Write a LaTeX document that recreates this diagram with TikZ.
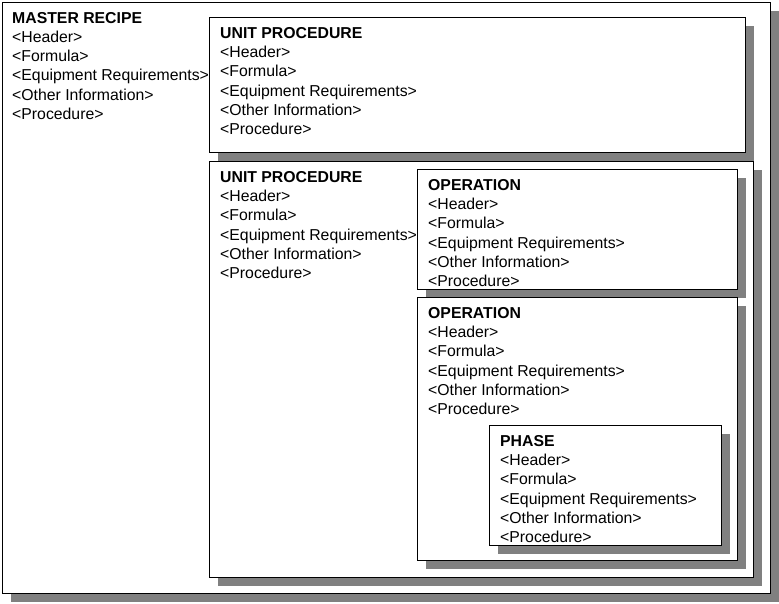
\documentclass[tikz,border=0pt]{standalone}
\usepackage{fontspec}
\setmainfont{Liberation Sans}
\usetikzlibrary{shadows}
\begin{document}
\begin{tikzpicture}[x=1pt,y=-1pt,
  box/.style={draw=black, line width=1.2pt, fill=white, anchor=north west, inner sep=0pt,
    drop shadow={shadow xshift=8pt, shadow yshift=-8pt, fill={rgb,255:red,128;green,128;blue,128}, opacity=1}},
  lbl/.style={anchor=base west, inner sep=0pt, align=left, font=\fontsize{15.8}{19.25}\selectfont}]
\useasboundingbox[fill=white] (0,0) rectangle (779,603);
\node[box, minimum width=768pt, minimum height=591pt] (master) at (2,2) {};
\node[box, minimum width=536pt, minimum height=135pt] (up1) at (209,17) {};
\node[box, minimum width=544pt, minimum height=416pt] (up2) at (209,161) {};
\node[box, minimum width=320pt, minimum height=120pt] (op1) at (417,169) {};
\node[box, minimum width=320pt, minimum height=263pt] (op2) at (417,297) {};
\node[box, minimum width=232pt, minimum height=120pt] (ph) at (489,425) {};
% anchor base = baseline of last line
\node[lbl] (tmaster) at (12,119.3) {\textbf{MASTER RECIPE}\\<Header>\\<Formula>\\<Equipment Requirements>\\<Other Information>\\<Procedure>};
\node[lbl] (tup1) at (220,134.6) {\textbf{UNIT PROCEDURE}\\<Header>\\<Formula>\\<Equipment Requirements>\\<Other Information>\\<Procedure>};
\node[lbl] (tup2) at (220,278.6) {\textbf{UNIT PROCEDURE}\\<Header>\\<Formula>\\<Equipment Requirements>\\<Other Information>\\<Procedure>};
\node[lbl] (top1) at (428,286.6) {\textbf{OPERATION}\\<Header>\\<Formula>\\<Equipment Requirements>\\<Other Information>\\<Procedure>};
\node[lbl] (top2) at (428,414.6) {\textbf{OPERATION}\\<Header>\\<Formula>\\<Equipment Requirements>\\<Other Information>\\<Procedure>};
\node[lbl] (tph) at (500,542.6) {\textbf{PHASE}\\<Header>\\<Formula>\\<Equipment Requirements>\\<Other Information>\\<Procedure>};
\end{tikzpicture}
\end{document}
